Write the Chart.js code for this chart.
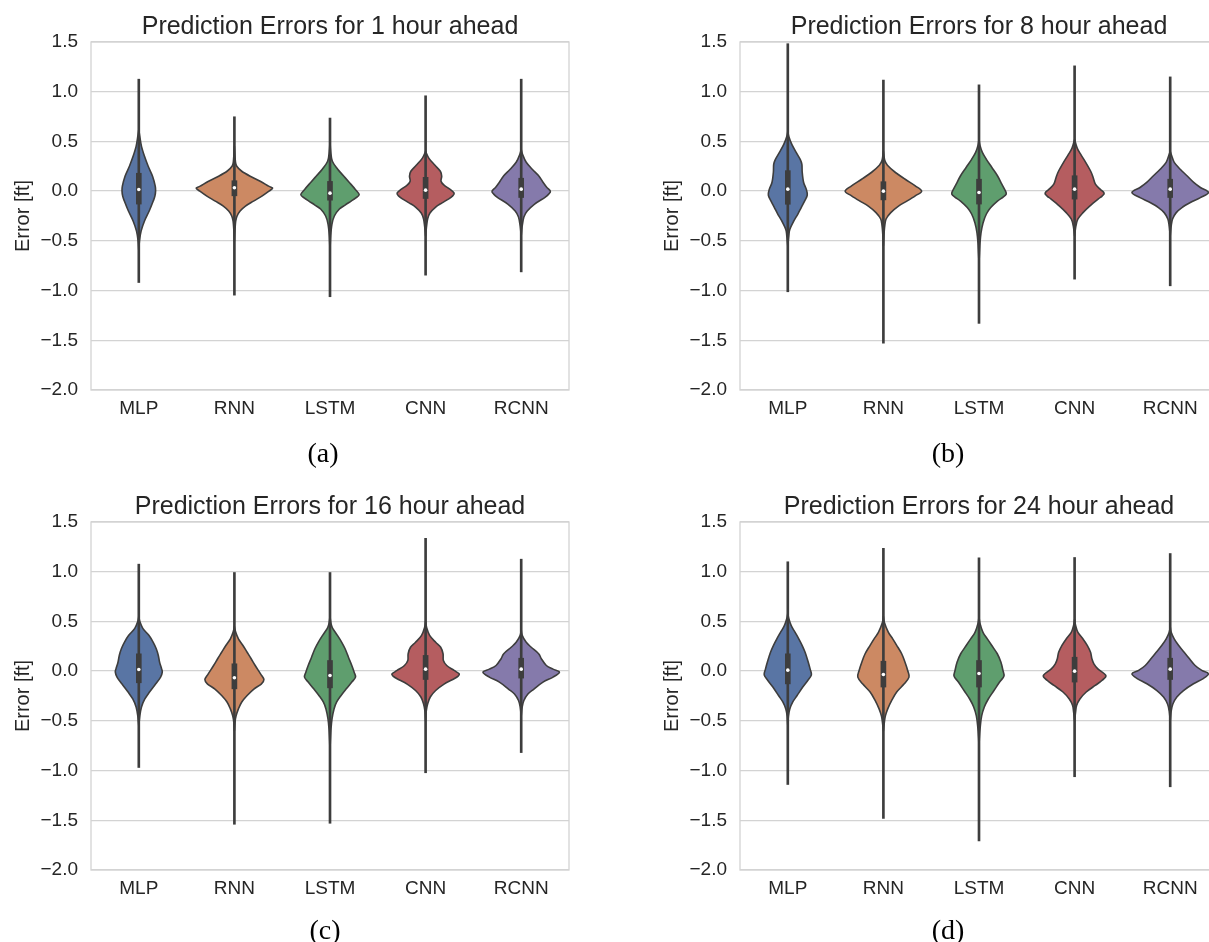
<!DOCTYPE html>
<html>
<head>
<meta charset="utf-8">
<script src="https://cdn.jsdelivr.net/npm/chart.js@4"></script>
<style>
html, body { margin: 0; padding: 0; background: #fff; }
body { width: 1209px; height: 942px; overflow: hidden; position: relative; }
canvas { position: absolute; }
.sub { position: absolute; font-family: "Liberation Serif", "Times New Roman", serif; font-size: 28px; color: #000; transform: translate(-50%, -50%); }
</style>
</head>
<body>
<canvas id="c1h" width="600" height="470" style="left:0;top:0"></canvas>
<canvas id="c8h" width="600" height="470" style="left:649px;top:0"></canvas>
<canvas id="c16h" width="600" height="470" style="left:0;top:480px"></canvas>
<canvas id="c24h" width="600" height="470" style="left:649px;top:480px"></canvas>
<div class="sub" style="left:323px;top:453px">(a)</div>
<div class="sub" style="left:948px;top:453px">(b)</div>
<div class="sub" style="left:325px;top:930px">(c)</div>
<div class="sub" style="left:948px;top:930px">(d)</div>
<script>
var models = ["MLP", "RNN", "LSTM", "CNN", "RCNN"];
var violinColors = ["#5975a4", "#cc8963", "#5f9e6e", "#b55d60", "#857aab"];

// violin outline: [error value, relative density width] pairs, top to bottom
var prof1h = [
    [[0.62,0],[0.55,3],[0.45,8],[0.35,17],[0.25,28],[0.15,41],[0.05,49],[0.0,50],[-0.05,48],[-0.1,43],[-0.2,31],[-0.3,17],[-0.4,7],[-0.5,2],[-0.6,0]],
    [[0.45,0],[0.3,3],[0.25,7],[0.2,22],[0.15,47],[0.1,77],[0.05,102],[0.03,114],[0.0,103],[-0.05,82],[-0.1,57],[-0.15,33],[-0.2,17],[-0.25,8],[-0.3,4],[-0.4,1.5],[-0.5,0]],
    [[0.5,0],[0.4,2],[0.3,7],[0.22,23],[0.155,40],[0.09,57],[0.02,75],[-0.035,87],[-0.07,76],[-0.1,63],[-0.14,45],[-0.18,28],[-0.25,13],[-0.33,6],[-0.45,2],[-0.6,0]],
    [[0.4,0],[0.33,10],[0.26,28],[0.2,44],[0.15,48],[0.1,46],[0.06,55],[0.02,72],[-0.02,85],[-0.05,80],[-0.08,68],[-0.12,48],[-0.16,30],[-0.22,13],[-0.28,6],[-0.35,3],[-0.45,0]],
    [[0.42,0],[0.37,4],[0.29,15],[0.22,33],[0.155,52],[0.09,65],[0.04,76],[0.0,87],[-0.03,82],[-0.065,70],[-0.13,40],[-0.2,18],[-0.26,8],[-0.35,3],[-0.45,0]]
];
var ext1h = [[-0.919,1.126],[-1.046,0.748],[-1.062,0.735],[-0.845,0.959],[-0.812,1.126]];
var quart1h = [[-0.13,0.18],[-0.047,0.105],[-0.091,0.098],[-0.074,0.139],[-0.064,0.13]];
var med1h = [0.017, 0.034, -0.02, 0.01, 0.02];

var prof8h = [
    [[0.6,0],[0.55,3],[0.47,12],[0.39,25],[0.32,37],[0.27,42],[0.19,43],[0.09,47],[0.02,55],[-0.04,58],[-0.1,50],[-0.165,40],[-0.23,30],[-0.3,18],[-0.385,6],[-0.45,3],[-0.55,0]],
    [[0.4,0],[0.31,4],[0.26,12],[0.19,35],[0.12,65],[0.054,95],[0.0,114],[-0.047,95],[-0.1,70],[-0.15,45],[-0.216,22],[-0.28,8],[-0.35,4],[-0.45,1.5],[-0.55,0]],
    [[0.52,0],[0.46,3],[0.39,10],[0.32,22],[0.24,38],[0.155,55],[0.07,68],[0.0,79],[-0.03,81],[-0.06,72],[-0.1,55],[-0.165,35],[-0.23,22],[-0.32,12],[-0.42,6],[-0.52,3],[-0.62,1.5],[-0.72,0]],
    [[0.52,0],[0.43,8],[0.36,20],[0.29,33],[0.2,48],[0.14,55],[0.07,62],[0.02,76],[-0.02,88],[-0.05,82],[-0.08,70],[-0.15,45],[-0.216,25],[-0.28,10],[-0.35,4],[-0.45,0]],
    [[0.4,0],[0.36,4],[0.29,12],[0.22,30],[0.155,50],[0.088,70],[0.037,90],[-0.013,114],[-0.065,90],[-0.115,60],[-0.165,35],[-0.216,18],[-0.28,7],[-0.35,3],[-0.45,0]]
];
var ext8h = [[-1.012,1.483],[-1.53,1.116],[-1.33,1.069],[-0.885,1.26],[-0.952,1.149]];
var quart8h = [[-0.132,0.206],[-0.088,0.095],[-0.13,0.12],[-0.08,0.155],[-0.064,0.12]];
var med8h = [0.02, 0.0, -0.013, 0.02, 0.02];

var prof16h = [
    [[0.55,0],[0.5,3],[0.43,12],[0.36,30],[0.29,43],[0.225,52],[0.16,58],[0.09,62],[0.023,68],[-0.01,70],[-0.06,65],[-0.13,50],[-0.21,32],[-0.28,18],[-0.36,8],[-0.45,3],[-0.55,0]],
    [[0.45,0],[0.39,4],[0.325,12],[0.26,25],[0.19,38],[0.125,50],[0.057,62],[-0.027,78],[-0.084,88],[-0.13,80],[-0.18,58],[-0.245,38],[-0.31,22],[-0.38,12],[-0.45,5],[-0.51,2],[-0.6,0]],
    [[0.55,0],[0.48,3],[0.43,8],[0.36,22],[0.29,35],[0.225,45],[0.14,55],[0.057,65],[-0.01,72],[-0.06,76],[-0.11,65],[-0.18,48],[-0.245,33],[-0.31,20],[-0.38,12],[-0.48,6],[-0.58,3],[-0.71,1],[-0.8,0]],
    [[0.5,0],[0.44,3],[0.36,12],[0.29,30],[0.24,45],[0.175,52],[0.107,53],[0.057,63],[0.007,85],[-0.027,100],[-0.05,97],[-0.077,85],[-0.13,55],[-0.195,30],[-0.26,14],[-0.33,6],[-0.4,2],[-0.5,0]],
    [[0.42,0],[0.36,3],[0.29,15],[0.24,30],[0.175,52],[0.125,60],[0.057,75],[0.02,95],[-0.01,114],[-0.06,95],[-0.11,65],[-0.18,38],[-0.23,20],[-0.295,8],[-0.36,3],[-0.45,0]]
];
var ext16h = [[-0.969,1.076],[-1.54,0.992],[-1.53,0.992],[-1.022,1.336],[-0.819,1.126]];
var quart16h = [[-0.117,0.174],[-0.178,0.074],[-0.168,0.107],[-0.084,0.158],[-0.07,0.13]];
var med16h = [0.017, -0.067, -0.044, 0.02, 0.02];

var prof24h = [
    [[0.58,0],[0.53,3],[0.46,10],[0.39,22],[0.325,33],[0.26,43],[0.19,52],[0.107,60],[0.023,67],[-0.037,71],[-0.094,60],[-0.16,45],[-0.245,28],[-0.31,15],[-0.38,6],[-0.45,2],[-0.55,0]],
    [[0.55,0],[0.49,3],[0.39,15],[0.325,28],[0.26,40],[0.175,55],[0.09,65],[0.007,73],[-0.06,77],[-0.13,62],[-0.21,40],[-0.295,25],[-0.38,13],[-0.45,6],[-0.51,3],[-0.6,0]],
    [[0.55,0],[0.48,3],[0.39,12],[0.325,25],[0.26,38],[0.175,55],[0.09,66],[0.007,72],[-0.05,75],[-0.11,62],[-0.195,45],[-0.28,28],[-0.36,16],[-0.45,8],[-0.55,4],[-0.68,1],[-0.8,0]],
    [[0.52,0],[0.46,3],[0.39,10],[0.325,25],[0.26,38],[0.19,48],[0.125,52],[0.074,58],[0.023,70],[-0.044,94],[-0.094,82],[-0.144,62],[-0.21,35],[-0.28,16],[-0.345,6],[-0.41,3],[-0.5,0]],
    [[0.45,0],[0.39,3],[0.325,12],[0.26,25],[0.19,42],[0.125,58],[0.057,75],[0.007,95],[-0.027,115],[-0.077,98],[-0.127,70],[-0.195,40],[-0.26,20],[-0.33,8],[-0.4,3],[-0.5,0]]
];
var ext24h = [[-1.14,1.10],[-1.48,1.236],[-1.707,1.139],[-1.062,1.143],[-1.163,1.183]];
var quart24h = [[-0.128,0.174],[-0.16,0.1],[-0.16,0.107],[-0.11,0.14],[-0.084,0.13]];
var med24h = [0.01, -0.034, -0.024, 0.0, 0.02];

var yMin = -2.0, yMax = 1.5, yStep = 0.5;

var textColor = "#262626";
var lineGray = "#3d3d3d";
var gridColor = "#d3d3d3";
var fontFam = "'Liberation Sans', Arial, sans-serif";

// smooth curve through points (catmull-rom)
var spline = function(ctx, p) {
    for (var i = 0; i < p.length - 1; i++) {
        var p0 = p[i - 1] || p[i], p1 = p[i], p2 = p[i + 1], p3 = p[i + 2] || p2;
        ctx.bezierCurveTo(p1.x + (p2.x - p0.x) / 6, p1.y + (p2.y - p0.y) / 6,
                          p2.x - (p3.x - p1.x) / 6, p2.y - (p3.y - p1.y) / 6,
                          p2.x, p2.y);
    }
};

var violinPlugin = {
    id: "violin",
    beforeDatasetsDraw: function(chart, args, opts) {
        var ctx = chart.ctx, xs = chart.scales.x, ys = chart.scales.y, area = chart.chartArea;
        ctx.save();
        ctx.strokeStyle = gridColor;
        ctx.lineWidth = 1.3;
        ctx.strokeRect(area.left, area.top, area.right - area.left, area.bottom - area.top);

        var maxW = 0;
        opts.profiles.forEach(function(p) {
            p.forEach(function(pt) { maxW = Math.max(maxW, pt[1]); });
        });
        var catPx = xs.getPixelForValue(1) - xs.getPixelForValue(0);
        opts.profiles.forEach(function(p, i) {
            var cx = xs.getPixelForValue(i);
            var right = p.map(function(pt) {
                return { x: cx + pt[1] / maxW * 0.4 * catPx, y: ys.getPixelForValue(pt[0]) };
            });
            var left = right.slice().reverse().map(function(pt) {
                return { x: 2 * cx - pt.x, y: pt.y };
            });
            ctx.beginPath();
            ctx.moveTo(right[0].x, right[0].y);
            spline(ctx, right);
            ctx.lineTo(left[0].x, left[0].y);
            spline(ctx, left);
            ctx.closePath();
            ctx.fillStyle = opts.colors[i];
            ctx.fill();
            ctx.lineWidth = 1.6;
            ctx.lineJoin = "round";
            ctx.strokeStyle = lineGray;
            ctx.stroke();
        });
        ctx.restore();
    }
};

var drawPanel = function(elementId, title, prof, ext, quart, med) {
    var ctx = document.getElementById(elementId).getContext("2d");
    var config = {
        type: "bar",
        data: {
            labels: models,
            datasets: [
                { type: "line", data: med, showLine: false, pointRadius: 1.8,
                  pointBackgroundColor: "#ffffff", pointBorderWidth: 0, order: 0 },
                { data: quart, backgroundColor: lineGray, barThickness: 5, grouped: false, borderWidth: 0, order: 1 },
                { data: ext, backgroundColor: lineGray, barThickness: 2, grouped: false, borderWidth: 0, order: 2 }
            ]
        },
        options: {
            responsive: false,
            animation: false,
            layout: { padding: { left: 0, right: 31, top: 0, bottom: 0 } },
            plugins: {
                legend: { display: false },
                tooltip: { enabled: false },
                title: {
                    display: true, text: title, color: textColor, fullSize: false,
                    font: { family: fontFam, size: 25, weight: "normal" },
                    padding: { top: 12, bottom: 0 }
                },
                violin: { profiles: prof, colors: violinColors }
            },
            scales: {
                x: {
                    grid: { display: false, drawTicks: false },
                    border: { display: false },
                    ticks: { color: textColor, font: { family: fontFam, size: 19 }, padding: 7 },
                    afterFit: function(s) { s.height = 80; }
                },
                y: {
                    min: yMin, max: yMax,
                    grid: { color: gridColor, lineWidth: 1.3, drawTicks: false },
                    border: { display: false },
                    ticks: {
                        stepSize: yStep, color: textColor, padding: 13,
                        font: { family: fontFam, size: 19 },
                        callback: function(v) { return v.toFixed(1).replace("-", "\u2212"); }
                    },
                    title: {
                        display: true, text: "Error [ft]", color: textColor,
                        font: { family: fontFam, size: 20 },
                        padding: { top: 11, bottom: 0 }
                    },
                    afterFit: function(s) { s.width = 91; }
                }
            }
        },
        plugins: [violinPlugin]
    };
    return new Chart(ctx, config);
};

drawPanel("c1h", "Prediction Errors for 1 hour ahead", prof1h, ext1h, quart1h, med1h);
drawPanel("c8h", "Prediction Errors for 8 hour ahead", prof8h, ext8h, quart8h, med8h);
drawPanel("c16h", "Prediction Errors for 16 hour ahead", prof16h, ext16h, quart16h, med16h);
drawPanel("c24h", "Prediction Errors for 24 hour ahead", prof24h, ext24h, quart24h, med24h);
</script>
</body>
</html>
